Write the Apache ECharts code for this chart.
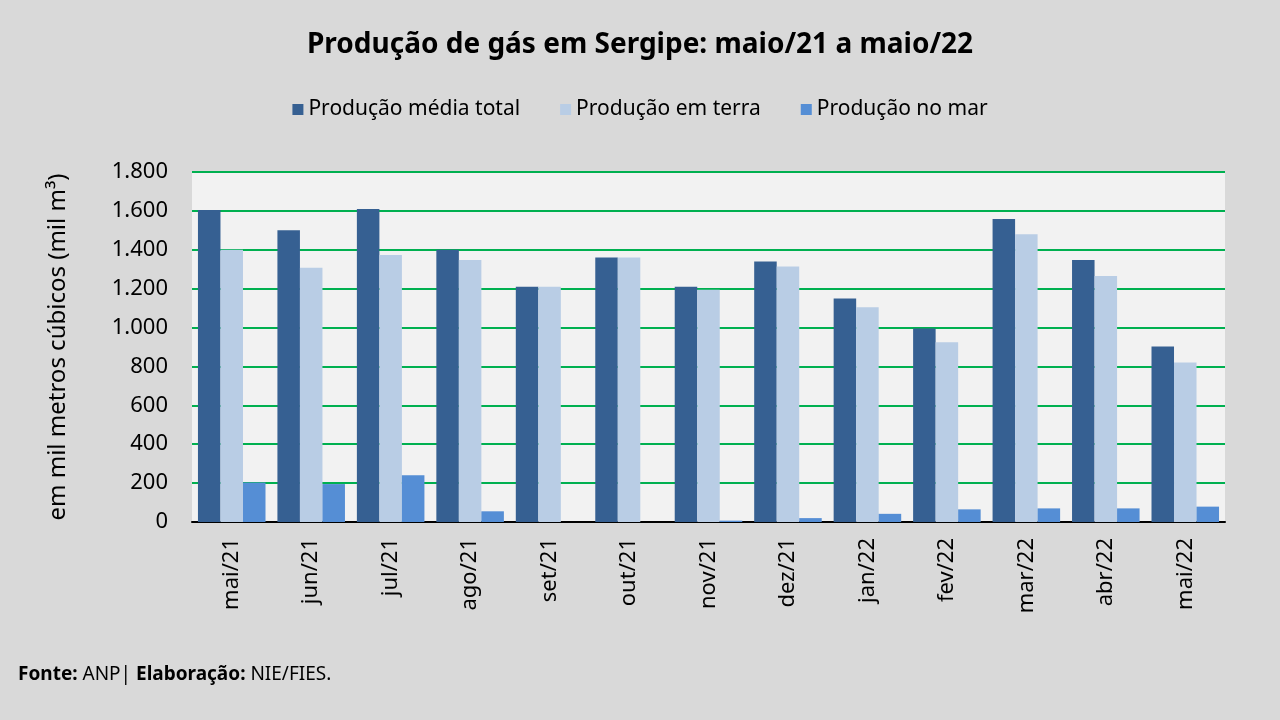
<!DOCTYPE html>
<html>
<head>
<meta charset="utf-8">
<script src="https://cdn.jsdelivr.net/npm/echarts@6/dist/echarts.min.js"></script>
<style>
  html, body { margin: 0; padding: 0; background: #d9d9d9; }
  #chart { width: 1280px; height: 720px; }
</style>
</head>
<body>
<div id="chart"></div>
<script>
var meses = ['mai/21', 'jun/21', 'jul/21', 'ago/21', 'set/21', 'out/21', 'nov/21', 'dez/21', 'jan/22', 'fev/22', 'mar/22', 'abr/22', 'mai/22'];
var producaoTotal = [1605, 1500, 1610, 1400, 1210, 1360, 1210, 1340, 1150, 995, 1558, 1347, 903];
var producaoTerra = [1400, 1308, 1373, 1347, 1210, 1360, 1195, 1314, 1105, 925, 1480, 1265, 820];
var producaoMar = [203, 195, 240, 55, 0, 0, 7, 20, 42, 65, 70, 70, 79];

var fonte = '"Noto Sans", "Open Sans", sans-serif';

function formatarMilhar(v) {
    return String(v).replace(/\B(?=(\d{3})+(?!\d))/g, '.');
}

var myChart = echarts.init(document.getElementById('chart'));
var option = {
    backgroundColor: '#d9d9d9',
    textStyle: { fontFamily: fonte },
    title: {
        text: 'Produção de gás em Sergipe: maio/21 a maio/22',
        left: 'center',
        top: 26,
        textStyle: { fontFamily: fonte, fontSize: 28, fontWeight: 'bold', color: '#000' }
    },
    legend: {
        top: 94,
        left: 'center',
        itemWidth: 11,
        itemHeight: 11,
        itemGap: 40,
        icon: 'rect',
        textStyle: { fontFamily: fonte, fontSize: 21, color: '#000' }
    },
    grid: {
        left: 192,
        right: 55,
        top: 172,
        bottom: 198,
        show: true,
        backgroundColor: '#f2f2f2',
        borderWidth: 0
    },
    xAxis: {
        type: 'category',
        data: meses,
        axisLine: { lineStyle: { color: '#000', width: 2 } },
        axisTick: { show: false },
        axisLabel: {
            rotate: 90,
            fontFamily: fonte,
            fontSize: 22,
            color: '#000',
            margin: 16
        }
    },
    yAxis: {
        type: 'value',
        min: 0,
        max: 1800,
        interval: 200,
        name: 'em mil metros cúbicos (mil m³)',
        nameLocation: 'middle',
        nameGap: 122,
        nameRotate: 90,
        nameTextStyle: { fontFamily: fonte, fontSize: 24, color: '#000' },
        axisLine: { show: false },
        axisTick: { show: false },
        axisLabel: {
            fontFamily: fonte,
            fontSize: 22,
            color: '#000',
            margin: 24,
            formatter: formatarMilhar
        },
        splitLine: { lineStyle: { color: '#00b050', width: 2 } }
    },
    series: [
        {
            name: 'Produção média total',
            type: 'bar',
            data: producaoTotal,
            barGap: '0%',
            barCategoryGap: '15%',
            itemStyle: { color: '#366092' }
        },
        {
            name: 'Produção em terra',
            type: 'bar',
            data: producaoTerra,
            itemStyle: { color: '#b9cde5' }
        },
        {
            name: 'Produção no mar',
            type: 'bar',
            data: producaoMar,
            itemStyle: { color: '#558ed5' }
        }
    ],
    graphic: [
        {
            type: 'text',
            left: 18,
            top: 665,
            style: {
                text: '{b|Fonte:} ANP| {b|Elaboração:} NIE/FIES.',
                fontFamily: fonte,
                fontSize: 19,
                fill: '#000',
                rich: {
                    b: { fontFamily: fonte, fontSize: 19, fontWeight: 'bold', fill: '#000' }
                }
            }
        }
    ]
};
myChart.setOption(option);
</script>
</body>
</html>
